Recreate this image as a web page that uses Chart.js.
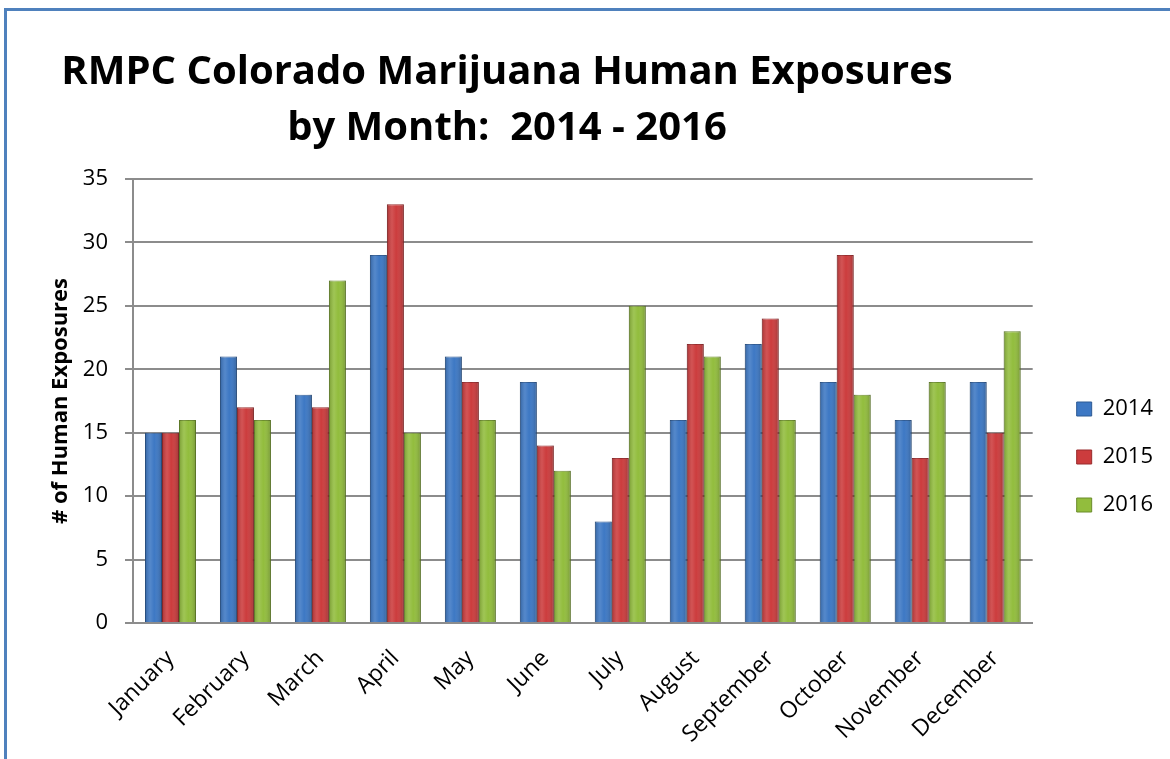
<!DOCTYPE html>
<html>
<head>
<meta charset="utf-8">
<script src="https://cdn.jsdelivr.net/npm/chart.js@4"></script>
<style>
  html, body { margin: 0; padding: 0; background: #fff; }
  #wrap { position: relative; width: 1170px; height: 759px; overflow: hidden; }
  #frame { position: absolute; left: 4px; top: 8px; width: 1200px; height: 800px;
           border-top: 3px solid #4f81bd; border-left: 3px solid #4f81bd; }
  canvas { position: absolute; left: 0; top: 0; }
</style>
</head>
<body>
<div id="wrap">
  <div id="frame"></div>
  <canvas id="exposuresChart" width="1170" height="759"></canvas>
</div>
<script>
const months = ['January', 'February', 'March', 'April', 'May', 'June',
                'July', 'August', 'September', 'October', 'November', 'December'];
const exposures2014 = [15, 21, 18, 29, 21, 19, 8, 16, 22, 19, 16, 19];
const exposures2015 = [15, 17, 17, 33, 19, 14, 13, 22, 24, 29, 13, 15];
const exposures2016 = [16, 16, 27, 15, 16, 12, 25, 21, 16, 18, 19, 23];
const titleLines = ['RMPC Colorado Marijuana Human Exposures', 'by Month:  2014 - 2016'];

// title is drawn by hand because it sits left of the canvas centre
const titlePlugin = {
    id: 'leftTitle',
    afterLayout(chart) {
        // nudge legend right and up a bit
        chart.legend.left += 18;
        chart.legend.right += 18;
        chart.legend.top -= 12;
        chart.legend.bottom -= 12;
    },
    afterDatasetsDraw(chart) {
        // cylinder-ish shading over each bar
        const ctx = chart.ctx;
        chart.data.datasets.forEach((ds, i) => {
            chart.getDatasetMeta(i).data.forEach(bar => {
                const l = bar.x - bar.width / 2, r = bar.x + bar.width / 2;
                const g = ctx.createLinearGradient(l, 0, r, 0);
                g.addColorStop(0, 'rgba(0,0,0,0.18)');
                g.addColorStop(0.3, 'rgba(255,255,255,0.12)');
                g.addColorStop(0.55, 'rgba(255,255,255,0)');
                g.addColorStop(1, 'rgba(0,0,0,0.22)');
                ctx.fillStyle = g;
                ctx.fillRect(l, bar.y, bar.width, bar.base - bar.y);
            });
        });
    },
    afterDraw(chart) {
        const ctx = chart.ctx;
        ctx.save();
        ctx.fillStyle = '#000';
        ctx.font = 'bold 40px "Open Sans"';
        ctx.textAlign = 'center';
        ctx.textBaseline = 'alphabetic';
        ctx.fillText(titleLines[0], 507, 84);
        ctx.fillText(titleLines[1], 507, 140);
        ctx.restore();
    }
};

const font = { family: '"Open Sans"', size: 22 };

new Chart(document.getElementById('exposuresChart'), {
    type: 'bar',
    data: {
        labels: months,
        datasets: [
            { label: '2014', data: exposures2014, backgroundColor: '#3d78c4', borderColor: '#2d5a94', borderWidth: 1 },
            { label: '2015', data: exposures2015, backgroundColor: '#cc3c3d', borderColor: '#992b2c', borderWidth: 1 },
            { label: '2016', data: exposures2016, backgroundColor: '#92bd3d', borderColor: '#6b8c2b', borderWidth: 1 }
        ]
    },
    options: {
        responsive: false,
        animation: false,
        layout: { padding: { top: 179, left: 48, right: 25, bottom: 0 } },
        datasets: { bar: { categoryPercentage: 0.68, barPercentage: 1 } },
        scales: {
            x: {
                grid: { display: false },
                border: { color: '#8c8c8c', width: 2 },
                ticks: { color: '#000', font: { family: '"Open Sans"', size: 23 }, minRotation: 45, maxRotation: 45, padding: 14 },
                afterFit(scale) { scale.height = 136; }
            },
            y: {
                min: 0,
                max: 35,
                ticks: { stepSize: 5, color: '#000', font, padding: 17 },
                grid: { color: '#8c8c8c', lineWidth: 2, tickLength: 8 },
                border: { color: '#8c8c8c', width: 2 },
                title: {
                    display: true,
                    text: '# of Human Exposures',
                    color: '#000',
                    font: { family: '"Open Sans"', size: 22, weight: 'bold' },
                    padding: 0
                },
                afterFit(scale) { scale.width = 85; }
            }
        },
        plugins: {
            legend: {
                position: 'right',
                labels: {
                    color: '#000',
                    font,
                    boxWidth: 15,
                    boxHeight: 14,
                    padding: 26
                }
            },
            tooltip: { enabled: false }
        }
    },
    plugins: [titlePlugin]
});
</script>
</body>
</html>
